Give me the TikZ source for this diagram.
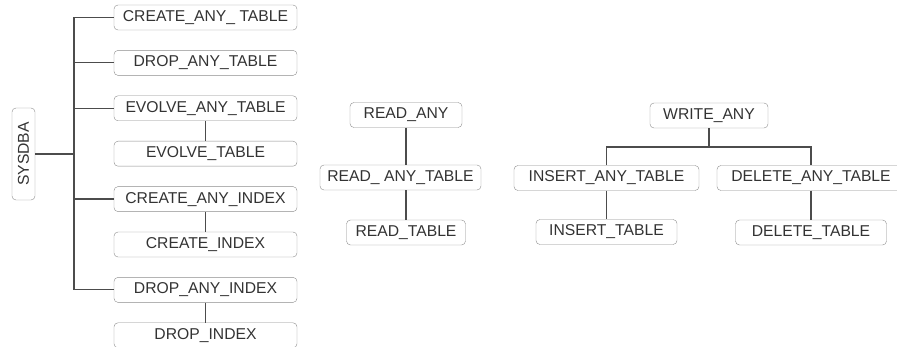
\documentclass[tikz,border=0pt]{standalone}
\usepackage{fontspec}
\setmainfont{Liberation Sans}
\usetikzlibrary{positioning}

\tikzset{
  priv/.style={draw=black!45,rounded corners=4pt,minimum height=25pt,inner sep=0pt,
    font=\fontsize{15.7}{18}\selectfont,text=black!80},
  link/.style={draw=black!70,line width=1.2pt}
}

\begin{document}
\begin{tikzpicture}[x=1pt,y=-1pt]
\useasboundingbox (0,0) rectangle (897,347);
% left tree
\node[priv,rotate=90,minimum width=92pt,minimum height=23pt] (sys) at (23.5,154) {SYSDBA};
\foreach \t/\n[count=\i from 0] in {
  CREATE\_ANY\_ TABLE/cat,
  DROP\_ANY\_TABLE/dat,
  EVOLVE\_ANY\_TABLE/eat,
  EVOLVE\_TABLE/et,
  CREATE\_ANY\_INDEX/cai,
  CREATE\_INDEX/ci,
  DROP\_ANY\_INDEX/dai,
  DROP\_INDEX/di}
\node[priv,minimum width=183pt] (\n) at (205.5,17.5+45.4*\i) {\t};
\coordinate (tt) at (74,17.5);
\coordinate (tb) at (74,289.9);
\draw[link] (tt) -- (tb);
\draw[link] (sys.south) -- (sys.south -| tt);
\foreach \n in {cat,dat,eat,cai,dai}
  \draw[link] (\n.west -| tt) -- (\n.west);
\foreach \a/\b in {eat/et,cai/ci,dai/di}
  \draw[link] (\a) -- (\b);

% read
\node[priv,minimum width=112pt] (ra) at (406,115) {READ\_ANY};
\node[priv,minimum width=161pt] (rat) at (400.5,177.5) {READ\_ ANY\_TABLE};
\node[priv,minimum width=119pt] (rt) at (406,232.5) {READ\_TABLE};
\draw[link] (ra.south) -- (ra.south |- rat.north);
\draw[link] (rat.south -| ra) -- (rt.north);

% write
\node[priv,minimum width=118pt] (wa) at (709,115.5) {WRITE\_ANY};
\node[priv,minimum width=185pt] (iat) at (606.5,178) {INSERT\_ANY\_TABLE};
\node[priv,minimum width=188pt] (dlat) at (811,178) {DELETE\_ANY\_TABLE};
\node[priv,minimum width=141pt] (it) at (606.5,232) {INSERT\_TABLE};
\node[priv,minimum width=151pt] (dlt) at (811,232.5) {DELETE\_TABLE};
\coordinate (bar) at (709,147);
\draw[link] (wa) -- (bar);
\draw[link] (iat.north) |- (bar) -| (dlat.north);
\draw[link] (iat) -- (it);
\draw[link] (dlat) -- (dlt);
\end{tikzpicture}
\end{document}
